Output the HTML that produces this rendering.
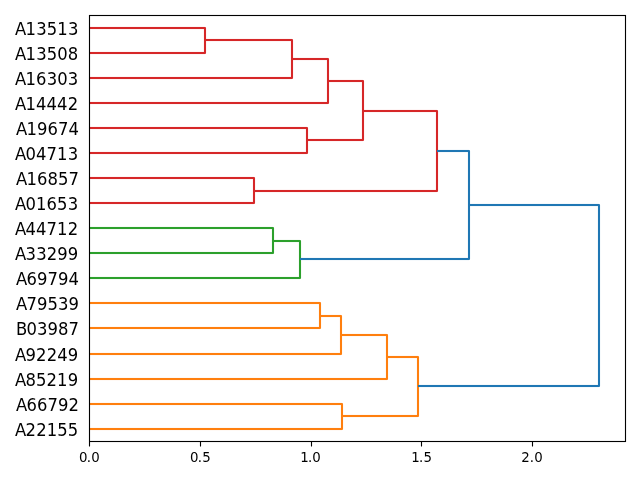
<!DOCTYPE html>
<html lang="en">
<head>
<meta charset="utf-8">
<title>Dendrogram</title>
<style>
html,body{margin:0;padding:0;background:#ffffff;}
body{width:640px;height:480px;overflow:hidden;}
svg{display:block;}
text{font-family:"DejaVu Sans","Liberation Sans",sans-serif;fill:#000000;}
.yl{font-size:17.6px;text-anchor:start;}
.xl{font-size:14.2px;text-anchor:middle;}
.lk{fill:none;stroke-width:2.0833;stroke-linejoin:round;stroke-linecap:butt;}
.sp{fill:none;stroke:#000000;stroke-width:1.1111;stroke-linecap:square;stroke-linejoin:miter;}
.tk{stroke:#000000;stroke-width:1.1111;stroke-linecap:butt;}
</style>
</head>
<body>
<svg width="640" height="480" viewBox="0 0 640 480">
<rect x="0" y="0" width="640" height="480" fill="#ffffff"/>
<g id="links">
<path class="lk" stroke="#ff7f0e" d="M89 429 L342 429 L342 404 L89 404"/>
<rect fill="#ff7f0e" x="89" y="427.9583" width="253" height="2.0833"/>
<rect fill="#ff7f0e" x="89" y="402.9583" width="253" height="2.0833"/>
<path class="lk" stroke="#ff7f0e" d="M89 328 L320 328 L320 303 L89 303"/>
<rect fill="#ff7f0e" x="89" y="326.9583" width="231" height="2.0833"/>
<rect fill="#ff7f0e" x="89" y="301.9583" width="231" height="2.0833"/>
<path class="lk" stroke="#ff7f0e" d="M89 354 L341 354 L341 316 L320 316"/>
<rect fill="#ff7f0e" x="89" y="352.9583" width="252" height="2.0833"/>
<rect fill="#ff7f0e" x="320" y="314.9583" width="21" height="2.0833"/>
<path class="lk" stroke="#ff7f0e" d="M89 379 L387 379 L387 335 L341 335"/>
<rect fill="#ff7f0e" x="89" y="377.9583" width="298" height="2.0833"/>
<rect fill="#ff7f0e" x="341" y="333.9583" width="46" height="2.0833"/>
<path class="lk" stroke="#ff7f0e" d="M342 416 L418 416 L418 357 L387 357"/>
<rect fill="#ff7f0e" x="342" y="414.9583" width="76" height="2.0833"/>
<rect fill="#ff7f0e" x="387" y="355.9583" width="31" height="2.0833"/>
<path class="lk" stroke="#2ca02c" d="M89 253 L273 253 L273 228 L89 228"/>
<rect fill="#2ca02c" x="89" y="251.9583" width="184" height="2.0833"/>
<rect fill="#2ca02c" x="89" y="226.9583" width="184" height="2.0833"/>
<path class="lk" stroke="#2ca02c" d="M89 278 L300 278 L300 241 L273 241"/>
<rect fill="#2ca02c" x="89" y="276.9583" width="211" height="2.0833"/>
<rect fill="#2ca02c" x="273" y="239.9583" width="27" height="2.0833"/>
<path class="lk" stroke="#d62728" d="M89 203 L254 203 L254 178 L89 178"/>
<rect fill="#d62728" x="89" y="201.9583" width="165" height="2.0833"/>
<rect fill="#d62728" x="89" y="176.9583" width="165" height="2.0833"/>
<path class="lk" stroke="#d62728" d="M89 153 L307 153 L307 128 L89 128"/>
<rect fill="#d62728" x="89" y="151.9583" width="218" height="2.0833"/>
<rect fill="#d62728" x="89" y="126.9583" width="218" height="2.0833"/>
<path class="lk" stroke="#d62728" d="M89 53 L205 53 L205 28 L89 28"/>
<rect fill="#d62728" x="89" y="51.9584" width="116" height="2.0833"/>
<rect fill="#d62728" x="89" y="26.9583" width="116" height="2.0833"/>
<path class="lk" stroke="#d62728" d="M89 78 L292 78 L292 40 L205 40"/>
<rect fill="#d62728" x="89" y="76.9583" width="203" height="2.0833"/>
<rect fill="#d62728" x="205" y="38.9584" width="87" height="2.0833"/>
<path class="lk" stroke="#d62728" d="M89 103 L328 103 L328 59 L292 59"/>
<rect fill="#d62728" x="89" y="101.9583" width="239" height="2.0833"/>
<rect fill="#d62728" x="292" y="57.9584" width="36" height="2.0833"/>
<path class="lk" stroke="#d62728" d="M307 140 L363 140 L363 81 L328 81"/>
<rect fill="#d62728" x="307" y="138.9583" width="56" height="2.0833"/>
<rect fill="#d62728" x="328" y="79.9583" width="35" height="2.0833"/>
<path class="lk" stroke="#d62728" d="M254 191 L437 191 L437 111 L363 111"/>
<rect fill="#d62728" x="254" y="189.9583" width="183" height="2.0833"/>
<rect fill="#d62728" x="363" y="109.9583" width="74" height="2.0833"/>
<path class="lk" stroke="#1f77b4" d="M300 259 L469 259 L469 151 L437 151"/>
<rect fill="#1f77b4" x="300" y="257.9583" width="169" height="2.0833"/>
<rect fill="#1f77b4" x="437" y="149.9583" width="32" height="2.0833"/>
<path class="lk" stroke="#1f77b4" d="M418 386 L599 386 L599 205 L469 205"/>
<rect fill="#1f77b4" x="418" y="384.9583" width="181" height="2.0833"/>
<rect fill="#1f77b4" x="469" y="203.9583" width="130" height="2.0833"/>
</g>
<g id="xticks">
<line class="tk" x1="89.5" y1="441.5" x2="89.5" y2="446.5"/>
<text class="xl" transform="translate(89.375 462) scale(0.9401 1)" dx="0 -0.9 0.15">0.0</text>
<line class="tk" x1="200.5" y1="441.5" x2="200.5" y2="446.5"/>
<text class="xl" transform="translate(200.375 462) scale(0.9401 1)" dx="0 -0.9 0.15">0.5</text>
<line class="tk" x1="311.5" y1="441.5" x2="311.5" y2="446.5"/>
<text class="xl" transform="translate(310.5 462) scale(0.9401 1)" dx="0 -0.9 0">1.0</text>
<line class="tk" x1="421.5" y1="441.5" x2="421.5" y2="446.5"/>
<text class="xl" transform="translate(421.625 462) scale(0.9401 1)" dx="0 -0.9 0.15">1.5</text>
<line class="tk" x1="532.5" y1="441.5" x2="532.5" y2="446.5"/>
<text class="xl" transform="translate(532 462) scale(0.9401 1)" dx="0 0 0.15">2.0</text>
</g>
<g id="ylabels">
<text class="yl" transform="translate(0 35) scale(0.9338 1)" x="15.9702 27.3007 38.8784 50.0706 61.2629 72.7228">A13513</text>
<text class="yl" transform="translate(0 60) scale(0.9338 1)" x="15.9702 27.3007 38.8784 50.0706 61.2629 72.4551">A13508</text>
<text class="yl" transform="translate(0 85) scale(0.9338 1)" x="16.1525 27.4345 38.6106 50.0706 61.2629 72.4551">A16303</text>
<text class="yl" transform="translate(0 110) scale(0.9338 1)" x="16.1525 27.4345 38.6106 49.8029 60.9952 72.4551">A14442</text>
<text class="yl" transform="translate(0 135) scale(0.9338 1)" x="17.2234 28.5054 39.6815 50.8738 62.066 73.2583">A19674</text>
<text class="yl" transform="translate(0 160) scale(0.9338 1)" x="16.1525 27.4345 38.6106 49.8029 60.9952 72.4551">A04713</text>
<text class="yl" transform="translate(0 185) scale(0.9338 1)" x="17.2234 28.5054 39.6815 50.8738 62.066 73.2583">A16857</text>
<text class="yl" transform="translate(0 210) scale(0.9338 1)" x="16.1525 27.4345 38.6106 49.8029 60.9952 72.4551">A01653</text>
<text class="yl" transform="translate(0 235) scale(0.9338 1)" x="16.1525 27.4345 38.6106 49.8029 60.9952 72.4551">A44712</text>
<text class="yl" transform="translate(0 260) scale(0.9338 1)" x="15.9702 27.3007 38.8784 50.0706 61.2629 72.4551">A33299</text>
<text class="yl" transform="translate(0 285) scale(0.9338 1)" x="17.2234 28.5054 39.6815 50.8738 62.066 73.2583">A69794</text>
<text class="yl" transform="translate(0 310) scale(0.9338 1)" x="17.2234 28.5054 39.6815 50.8738 62.066 73.2583">A79539</text>
<text class="yl" transform="translate(0 335) scale(0.9338 1)" x="17.1749 28.5054 39.6815 50.8738 62.066 73.2583">B03987</text>
<text class="yl" transform="translate(0 361) scale(0.9338 1)" x="16.1525 27.4345 38.6106 50.0706 61.2629 72.4551">A92249</text>
<text class="yl" transform="translate(0 386) scale(0.9338 1)" x="16.1525 27.4345 38.6106 49.8029 60.9952 72.4551">A85219</text>
<text class="yl" transform="translate(0 411) scale(0.9338 1)" x="17.2234 28.5054 39.6815 50.8738 62.066 73.2583">A66792</text>
<text class="yl" transform="translate(0 436) scale(0.9338 1)" x="15.9702 27.3007 38.8784 50.0706 61.2629 72.4551">A22155</text>
</g>
<rect class="sp" x="89.5" y="15.5" width="536" height="426"/>
</svg>
</body>
</html>
